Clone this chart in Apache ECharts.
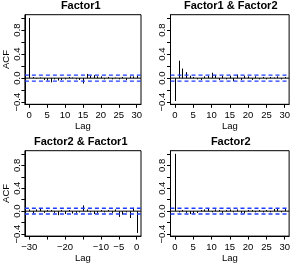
<!DOCTYPE html>
<html>
<head>
<meta charset="utf-8">
<style>
html,body{margin:0;padding:0;background:#fff;}
#chart{width:293px;height:264px;}
</style>
<script src="https://cdn.jsdelivr.net/npm/echarts@6/dist/echarts.min.js"></script>
</head>
<body>
<div id="chart"></div>
<script>
// ---- data ----
const lagsPos = [0,1,2,3,4,5,6,7,8,9,10,11,12,13,14,15,16,17,18,19,20,21,22,23,24,25,26,27,28,29,30];
const lagsNeg = [-30,-29,-28,-27,-26,-25,-24,-23,-22,-21,-20,-19,-18,-17,-16,-15,-14,-13,-12,-11,-10,-9,-8,-7,-6,-5,-4,-3,-2,-1,0];

const factor1Acf = [1.0,0.02,-0.01,0.01,-0.03,-0.04,-0.07,-0.02,-0.04,-0.03,-0.02,0.02,0.01,-0.02,-0.03,-0.09,0.07,0.04,0.05,0.03,0.03,-0.02,0.02,-0.02,0.01,-0.02,0.02,-0.03,0.03,0.03,0.04];
const factor1Factor2 = [-0.38,0.29,0.16,0.10,0.04,0.02,-0.02,-0.03,0.03,0.04,0.09,0.05,-0.03,0.04,-0.02,0.04,-0.05,0.06,-0.03,0.04,0.03,-0.03,0.03,-0.02,0.02,-0.02,0.02,0.01,0.03,-0.02,0.02];
const factor2Factor1 = [0.03,-0.04,0.03,0.04,-0.03,0.02,0.02,-0.03,-0.07,0.02,-0.05,0.02,-0.04,-0.03,-0.02,0.10,0.03,-0.02,-0.05,-0.03,0.02,-0.02,0.02,-0.03,0.03,-0.10,-0.06,-0.02,-0.12,0.06,-0.38];
const factor2Acf = [1.0,-0.02,0.02,-0.03,-0.05,-0.04,-0.03,0.02,0.03,0.05,-0.02,0.03,0.02,-0.03,0.02,0.03,-0.02,0.03,-0.03,-0.04,0.02,0.02,-0.02,0.02,-0.02,0.02,-0.02,0.04,0.04,-0.02,0.04];

const ciLevel = 0.05;

const xTicksPos = [0,5,10,15,20,25,30];
const xLabelsPos = [0,5,10,15,20,25,30];
const xTicksNeg = [-30,-25,-20,-15,-10,-5,0];
const xLabelsNeg = [-30,-20,-10,-5,0];
const yTicks = [-0.4,-0.2,0,0.2,0.4,0.6,0.8,1.0];
const yLabels = [-0.4,0,0.4,0.8];

const titles = ['Factor1','Factor1 & Factor2','Factor2 & Factor1','Factor2'];

// ---- layout ----
const FONT = 'Liberation Sans, Arial, Helvetica, sans-serif';
const boxW = 120.5, boxH = 89.6;
const lefts = [20.5, 170.5, 20.5, 170.5];
const tops = [14.7, 14.7, 150.7, 150.7];
const yMin = -0.435, yMax = 1.055;
const CI_COLOR = '#1e3cff';

const panels = [
  {lags: lagsPos, vals: factor1Acf, xmin: -1.2, xmax: 31.2, ticks: xTicksPos, labels: xLabelsPos, ylab: true},
  {lags: lagsPos, vals: factor1Factor2, xmin: -1.2, xmax: 31.2, ticks: xTicksPos, labels: xLabelsPos, ylab: false},
  {lags: lagsNeg, vals: factor2Factor1, xmin: -31.2, xmax: 1.2, ticks: xTicksNeg, labels: xLabelsNeg, ylab: true},
  {lags: lagsPos, vals: factor2Acf, xmin: -1.2, xmax: 31.2, ticks: xTicksPos, labels: xLabelsPos, ylab: false}
];

function fmtNum(v, dec) {
  const s = dec ? Math.abs(v).toFixed(dec) : String(Math.abs(v));
  return (v < -1e-9 ? '\u2212' : '') + s;
}

function hLine(i, p, yv, color, type, w) {
  return {type: 'line', xAxisIndex: i, yAxisIndex: i, silent: true, symbol: 'none',
    data: [[p.xmin, yv], [p.xmax, yv]],
    lineStyle: {color: color, type: type, width: w, opacity: 1}, itemStyle: {color: color},
    emphasis: {disabled: true}, z: 3};
}

const grid = [], xAxis = [], yAxis = [], series = [], title = [];
panels.forEach((p, i) => {
  grid.push({left: lefts[i], top: tops[i], width: boxW, height: boxH,
    show: true, borderColor: '#000', borderWidth: 1, backgroundColor: 'transparent', containLabel: false});
  title.push({text: titles[i], left: lefts[i] + boxW / 2, top: tops[i] - 14.5, textAlign: 'center', padding: 0,
    textStyle: {fontFamily: FONT, fontSize: 11, fontWeight: 'bold', color: '#000'}});
  xAxis.push({type: 'value', gridIndex: i, min: p.xmin, max: p.xmax,
    name: 'Lag', nameLocation: 'middle', nameGap: 14,
    nameTextStyle: {fontFamily: FONT, fontSize: 9.5, color: '#000'},
    axisLine: {show: true, onZero: false, lineStyle: {color: '#000', width: 1}},
    axisTick: {show: true, length: 3.5, customValues: p.ticks, lineStyle: {color: '#000'}},
    axisLabel: {show: true, customValues: p.labels, margin: 6, fontFamily: FONT, fontSize: 9.5, color: '#000',
      formatter: v => fmtNum(v, 0)},
    splitLine: {show: false}});
  yAxis.push({type: 'value', gridIndex: i, min: yMin, max: yMax,
    name: p.ylab ? 'ACF' : '', nameLocation: 'middle', nameGap: 8, nameRotate: 90,
    nameTextStyle: {fontFamily: FONT, fontSize: 9.5, color: '#000'},
    axisLine: {show: true, onZero: false, lineStyle: {color: '#000', width: 1}},
    axisTick: {show: true, length: 3.5, customValues: yTicks, lineStyle: {color: '#000'}},
    axisLabel: {show: true, customValues: yLabels, rotate: 90, margin: 3, fontFamily: FONT, fontSize: 9.5, color: '#000',
      formatter: v => fmtNum(v, 1)},
    splitLine: {show: false}});
  series.push({
    type: 'custom', xAxisIndex: i, yAxisIndex: i, silent: true, clip: true, z: 2,
    data: p.lags.map((l, k) => [l, p.vals[k]]),
    renderItem: function (params, api) {
      const x = api.value(0), y = api.value(1);
      const a = api.coord([x, 0]), b = api.coord([x, y]);
      const px = Math.round(a[0]) + 0.5;
      return {type: 'line', shape: {x1: px, y1: a[1], x2: px, y2: b[1]},
        style: {stroke: '#000', lineWidth: 1}};
    }
  });
  series.push(hLine(i, p, 0, '#000', 'solid', 1));
  series.push(hLine(i, p, ciLevel, CI_COLOR, [4, 3], 1.4));
  series.push(hLine(i, p, -ciLevel, CI_COLOR, [4, 3], 1.4));
});

const chart = echarts.init(document.getElementById('chart'), null, {renderer: 'canvas'});
chart.setOption({animation: false, backgroundColor: '#fff', title, grid, xAxis, yAxis, series});
</script>
</body>
</html>
